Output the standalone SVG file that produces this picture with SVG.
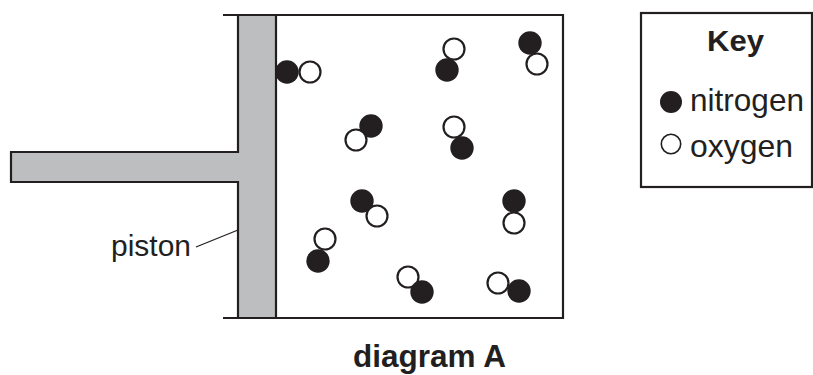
<svg xmlns="http://www.w3.org/2000/svg" width="813" height="375" viewBox="0 0 813 375">
<style>
.ln{stroke:#231f20;stroke-width:2.2;fill:none}
.n{fill:#231f20}
.o{fill:#fff;stroke:#231f20;stroke-width:2.2}
.t{font-family:"Liberation Sans",Arial,sans-serif;fill:#231f20}
.b{font-weight:bold}
</style>
<rect width="813" height="375" fill="#fff"/>
<g id="container">
<line class="ln" x1="223" y1="15" x2="564" y2="15"/>
<line class="ln" x1="223" y1="318" x2="564" y2="318"/>
<line class="ln" x1="563" y1="14" x2="563" y2="319"/>
</g>
<g id="piston">
<path d="M238,15 V152 H11 V182 H238 V318 H276 V15 Z" fill="#bcbec0" stroke="#231f20" stroke-width="2.2"/>
</g>
<g id="connectors">
<line x1="196" y1="247" x2="238" y2="230" stroke="#231f20" stroke-width="1.3"/>
</g>
<g id="piston-label">
<text class="t" x="111" y="256" font-size="30" textLength="80" lengthAdjust="spacingAndGlyphs">piston</text>
</g>
<g id="molecules">
<circle class="n" cx="287" cy="72" r="11.7"/><circle class="o" cx="310" cy="72" r="10.5"/>
<circle class="n" cx="371" cy="126" r="11.7"/><circle class="o" cx="356" cy="140" r="10.5"/>
<circle class="o" cx="454" cy="49" r="10.5"/><circle class="n" cx="447" cy="70" r="11.7"/>
<circle class="o" cx="537" cy="64" r="10.5"/><circle class="n" cx="530" cy="43" r="11.7"/>
<circle class="o" cx="454" cy="127" r="10.5"/><circle class="n" cx="462" cy="148" r="11.7"/>
<circle class="o" cx="377" cy="216" r="10.5"/><circle class="n" cx="362" cy="201" r="11.7"/>
<circle class="o" cx="325" cy="239" r="10.5"/><circle class="n" cx="318" cy="261" r="11.7"/>
<circle class="o" cx="514" cy="223" r="10.5"/><circle class="n" cx="514" cy="201" r="11.7"/>
<circle class="o" cx="408" cy="277" r="10.5"/><circle class="n" cx="422" cy="292" r="11.7"/>
<circle class="o" cx="498" cy="283" r="10.5"/><circle class="n" cx="519" cy="291" r="11.7"/>
</g>
<g id="key">
<rect x="641" y="13" width="171" height="174" fill="#fff" stroke="#231f20" stroke-width="2.2"/>
<text class="t b" x="707" y="51" font-size="30" textLength="57" lengthAdjust="spacingAndGlyphs">Key</text>
<circle class="n" cx="671" cy="102" r="11"/>
<text class="t" x="690" y="111" font-size="32" textLength="114" lengthAdjust="spacingAndGlyphs">nitrogen</text>
<circle fill="#fff" stroke="#231f20" stroke-width="1.6" cx="671" cy="144" r="9.7"/>
<text class="t" x="690" y="157" font-size="32" textLength="103" lengthAdjust="spacingAndGlyphs">oxygen</text>
</g>
<g id="caption">
<text class="t b" x="353" y="367" font-size="31" textLength="153" lengthAdjust="spacingAndGlyphs">diagram A</text>
</g>
</svg>
